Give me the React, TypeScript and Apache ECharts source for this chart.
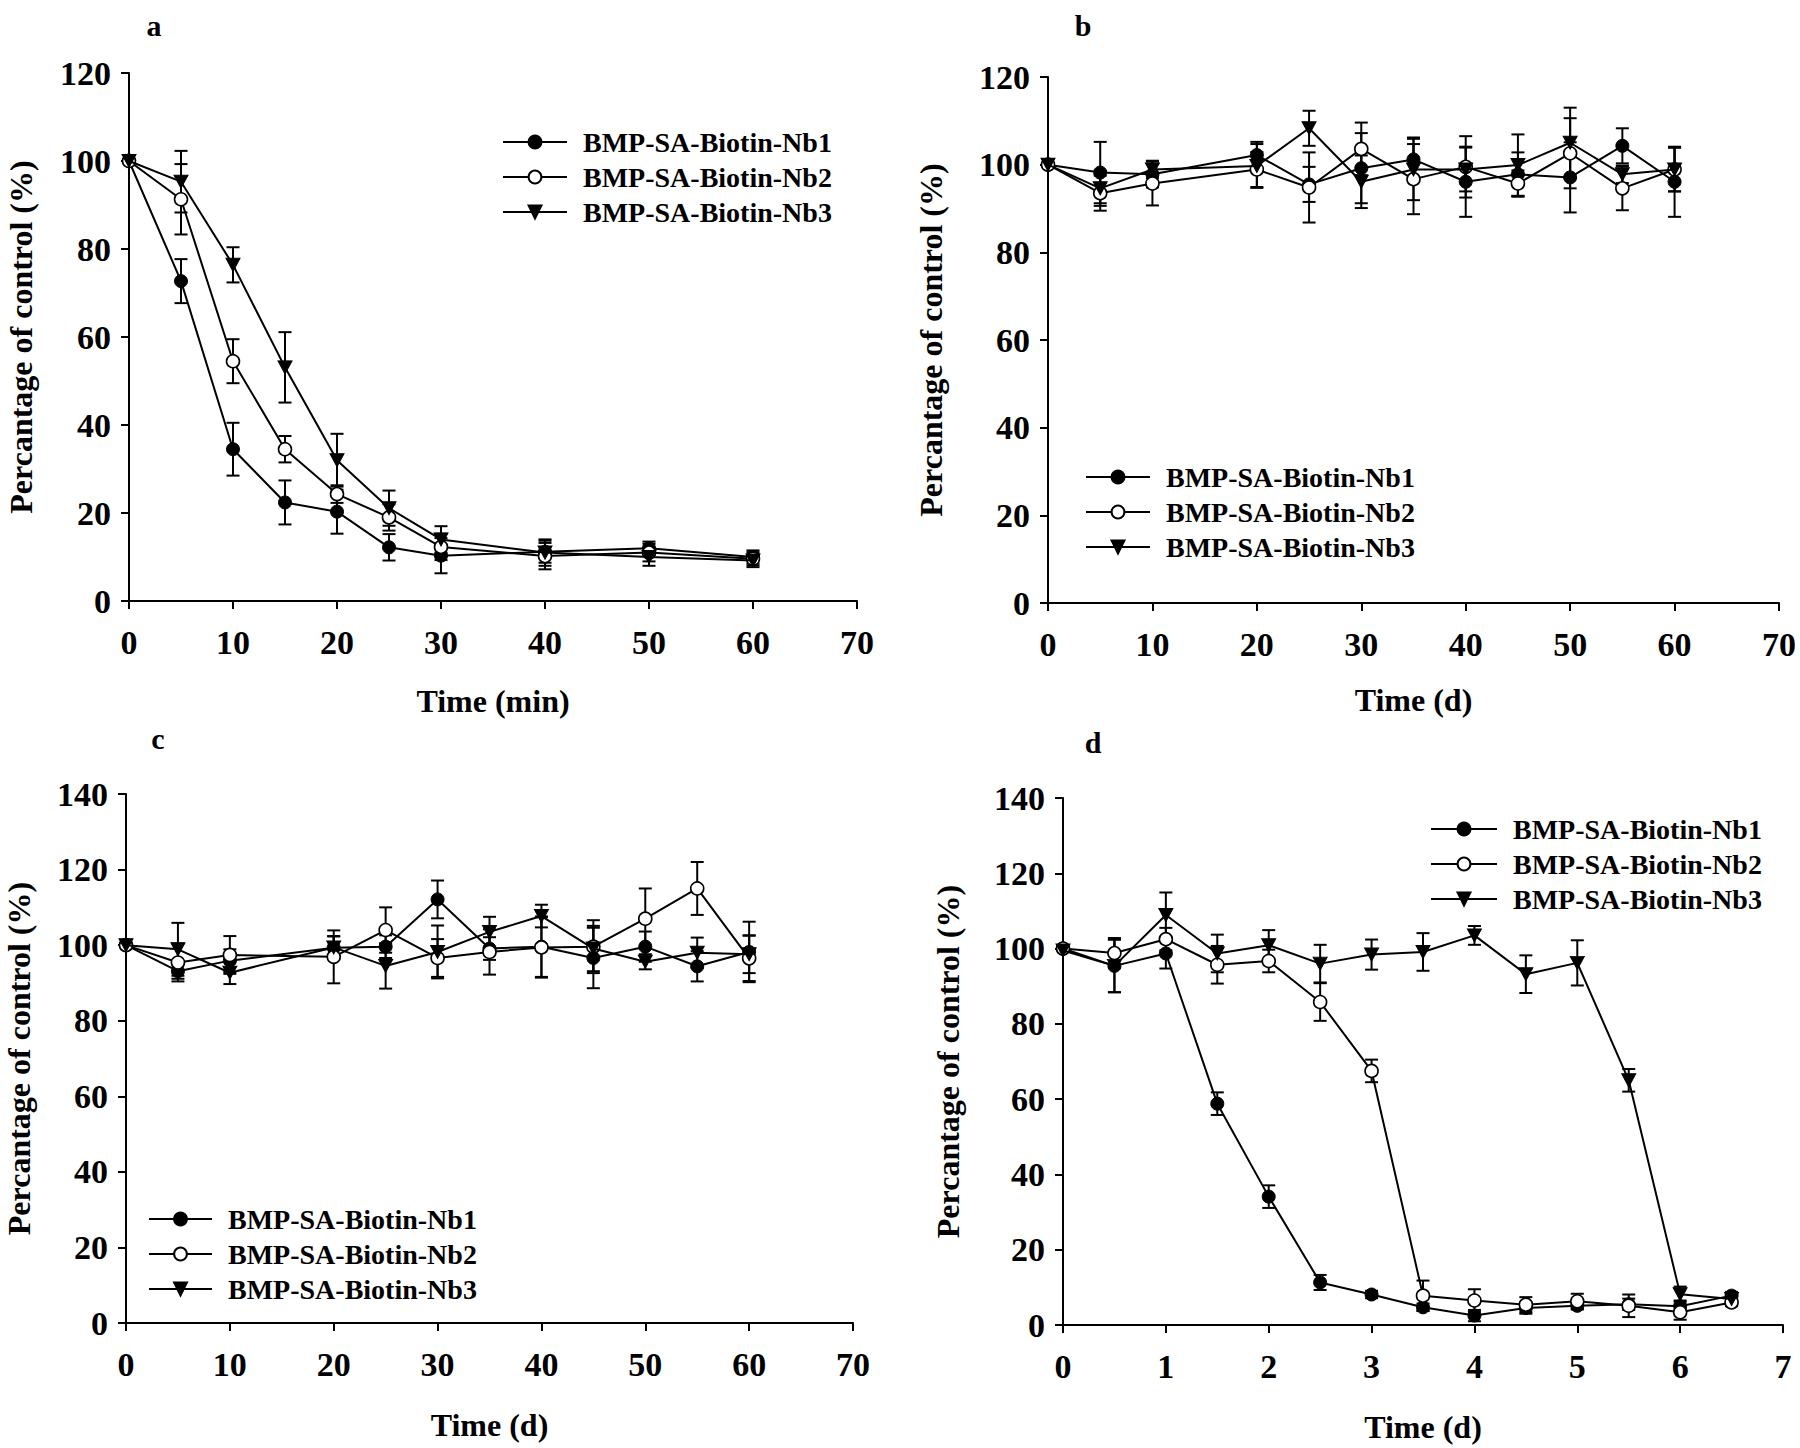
import React, { useEffect, useRef } from 'react';
import * as echarts from 'echarts';

const SERIES_NAMES = ['BMP-SA-Biotin-Nb1', 'BMP-SA-Biotin-Nb2', 'BMP-SA-Biotin-Nb3'];
const Y_TITLE = 'Percantage of control (%)';

// Panel a
const A_TIME = [0, 5, 10, 15, 20, 25, 30, 40, 50, 60];
const A_NB1 = [100, 72.7, 34.5, 22.4, 20.3, 12.2, 10.3, 11.2, 12.0, 10.0];
const A_NB1_ERR = [0, 5, 6, 5, 5, 3, 4, 2.5, 1.5, 1.5];
const A_NB2 = [100, 91.3, 54.5, 34.5, 24.3, 19.0, 12.3, 10.2, 11.0, 9.6];
const A_NB2_ERR = [0, 8, 5, 3, 2, 3, 3, 3, 2, 1.5];
const A_NB3 = [100, 95.3, 76.4, 53.1, 32.0, 21.1, 14.0, 11.0, 10.0, 9.2];
const A_NB3_ERR = [0, 7, 4, 8, 6, 4, 3, 3, 2, 1.5];

// Panel b
const B_TIME = [0, 5, 10, 20, 25, 30, 35, 40, 45, 50, 55, 60];
const B_NB1 = [100, 98.2, 97.8, 102.2, 95.5, 99.2, 101.2, 96.1, 97.8, 97.1, 104.3, 96.1];
const B_NB1_ERR = [0, 7, 3, 3, 4, 8, 5, 8, 5, 8, 4, 8];
const B_NB2 = [100, 93.5, 95.7, 98.9, 94.8, 103.6, 96.7, 99.5, 95.7, 102.6, 94.6, 98.9];
const B_NB2_ERR = [0, 4, 5, 4, 8, 6, 8, 7, 3, 8, 5, 5];
const B_NB3 = [100, 94.6, 98.9, 99.7, 108.3, 96.1, 98.9, 98.9, 99.9, 105.0, 97.8, 98.9];
const B_NB3_ERR = [0, 4, 2, 5, 4, 6, 7, 5, 7, 8, 2, 5];

// Panel c
const C_TIME = [0, 5, 10, 20, 25, 30, 35, 40, 45, 50, 55, 60];
const C_NB1 = [100, 93.1, 95.9, 99.3, 99.6, 112.1, 99.1, 99.6, 96.6, 99.6, 94.4, 98.2];
const C_NB1_ERR = [0, 2, 3, 3, 3, 5, 3, 8, 8, 4, 4, 8];
const C_NB2 = [100, 95.4, 97.4, 96.9, 104.0, 96.6, 98.2, 99.4, 99.6, 107.0, 115.0, 96.5];
const C_NB2_ERR = [0, 5, 5, 7, 6, 5, 6, 8, 7, 8, 7, 6];
const C_NB3 = [100, 98.9, 92.7, 99.4, 94.5, 98.2, 103.5, 107.7, 99.1, 95.6, 98.0, 97.6];
const C_NB3_ERR = [0, 7, 3, 3, 6, 7, 4, 3, 6, 2, 4, 5];

// Panel d
const D_TIME = [0, 0.5, 1, 1.5, 2, 2.5, 3, 3.5, 4, 4.5, 5, 5.5, 6, 6.5];
const D_NB1 = [100, 95.4, 98.7, 58.8, 34.1, 11.3, 8.1, 4.7, 2.5, 4.5, 5.1, 5.5, 5.0, 7.8];
const D_NB1_ERR = [0, 7, 4, 3, 3, 2, 1, 1, 1.5, 1.5, 1, 1.5, 1.5, 1];
const D_NB2 = [100, 98.8, 102.5, 95.7, 96.7, 85.8, 67.5, 7.8, 6.5, 5.4, 6.3, 5.1, 3.4, 6.0];
const D_NB2_ERR = [0, 4, 3, 5, 3, 5, 3, 4, 3, 2, 2, 3, 2, 1];
const D_NB3 = [99.5, 95.4, 108.9, 98.7, 100.9, 96.0, 98.4, 99.1, 103.5, 93.2, 96.2, 65.0, 8.2, 6.9];
const D_NB3_ERR = [0, 7, 6, 5, 4, 5, 4, 5, 2.5, 5, 6, 3, 2, 1];

const FONT = '"Liberation Serif", "Times New Roman", serif';

const PANELS = [
  {
    label: 'a', time: A_TIME, vals: [A_NB1, A_NB2, A_NB3], errs: [A_NB1_ERR, A_NB2_ERR, A_NB3_ERR],
    xMax: 70, xInt: 10, yMax: 120, xName: 'Time (min)',
    grid: { left: 129, top: 73, width: 728, height: 528 },
    legend: { left: 502, top: 128, itemWidth: 64 },
    labelPos: [154, 25], yGap: 92, xGap: 84,
  },
  {
    label: 'b', time: B_TIME, vals: [B_NB1, B_NB2, B_NB3], errs: [B_NB1_ERR, B_NB2_ERR, B_NB3_ERR],
    xMax: 70, xInt: 10, yMax: 120, xName: 'Time (d)',
    grid: { left: 1048, top: 77, width: 731, height: 526 },
    legend: { left: 1085, top: 463, itemWidth: 64 },
    labelPos: [1083, 25], yGap: 101, xGap: 81,
  },
  {
    label: 'c', time: C_TIME, vals: [C_NB1, C_NB2, C_NB3], errs: [C_NB1_ERR, C_NB2_ERR, C_NB3_ERR],
    xMax: 70, xInt: 10, yMax: 140, xName: 'Time (d)',
    grid: { left: 126, top: 794, width: 727, height: 529 },
    legend: { left: 148, top: 1205, itemWidth: 63 },
    labelPos: [158, 738], yGap: 91, xGap: 86,
  },
  {
    label: 'd', time: D_TIME, vals: [D_NB1, D_NB2, D_NB3], errs: [D_NB1_ERR, D_NB2_ERR, D_NB3_ERR],
    xMax: 7, xInt: 1, yMax: 140, xName: 'Time (d)',
    grid: { left: 1063, top: 798, width: 720, height: 527 },
    legend: { left: 1430, top: 815, itemWidth: 66 },
    labelPos: [1093, 742], yGap: 99, xGap: 86,
  },
];

const SYMBOLS = [
  { symbol: 'circle', symbolSize: 13, itemStyle: { color: '#000', borderColor: '#000', borderWidth: 1 } },
  { symbol: 'circle', symbolSize: 13, itemStyle: { color: '#fff', borderColor: '#000', borderWidth: 1.6 } },
  { symbol: 'path://M0,0L10,0L5,9Z', symbolSize: [14, 13], itemStyle: { color: '#000', borderColor: '#000', borderWidth: 1 } },
];

function buildOption() {
  const grid: any[] = [];
  const xAxis: any[] = [];
  const yAxis: any[] = [];
  const legend: any[] = [];
  const series: any[] = [];
  const graphic: any[] = [];
  const axisCommon = {
    axisLine: { show: true, onZero: false, lineStyle: { color: '#000', width: 2 } },
    axisTick: { show: true, inside: false, length: 8, lineStyle: { color: '#000', width: 2 } },
    splitLine: { show: false },
    axisLabel: { fontSize: 34, fontWeight: 'bold', fontFamily: FONT, color: '#000' },
    nameLocation: 'middle',
    nameTextStyle: { fontSize: 32, fontWeight: 'bold', fontFamily: FONT, color: '#000' },
  };

  PANELS.forEach((p, pi) => {
    grid.push({ ...p.grid, containLabel: false });
    xAxis.push({
      ...axisCommon, type: 'value', gridIndex: pi, min: 0, max: p.xMax, interval: p.xInt,
      name: p.xName, nameGap: p.xGap,
      axisLabel: { ...axisCommon.axisLabel, margin: 24 },
    });
    yAxis.push({
      ...axisCommon, type: 'value', gridIndex: pi, min: 0, max: p.yMax, interval: 20,
      name: Y_TITLE, nameGap: p.yGap, nameRotate: 90,
      axisLabel: { ...axisCommon.axisLabel, margin: 18 },
    });
    legend.push({
      orient: 'vertical', left: p.legend.left, top: p.legend.top, padding: 0,
      data: SERIES_NAMES, itemWidth: p.legend.itemWidth, itemHeight: 16, itemGap: 7,
      selectedMode: false,
      textStyle: { fontSize: 28, fontWeight: 'bold', fontFamily: FONT, color: '#000', lineHeight: 28, padding: [0, 0, 0, 11] },
    });
    graphic.push({
      type: 'text', x: p.labelPos[0], y: p.labelPos[1],
      style: { text: p.label, fontSize: 30, fontWeight: 'bold', fontFamily: FONT, fill: '#000', align: 'center', verticalAlign: 'middle' },
    });

    p.vals.forEach((vals, si) => {
      const errs = p.errs[si];
      const errData = p.time
        .map((t, k) => [t, vals[k] - errs[k], vals[k] + errs[k], errs[k]])
        .filter((d) => d[3] > 0);
      series.push({
        type: 'custom', name: `err-${p.label}-${si + 1}`, xAxisIndex: pi, yAxisIndex: pi, z: 1,
        data: errData, encode: { x: 0, y: [1, 2] }, silent: true,
        renderItem: (params: any, api: any) => {
          const x = api.value(0);
          const lo = api.coord([x, api.value(1)]);
          const hi = api.coord([x, api.value(2)]);
          const w = 6.5;
          const st = { stroke: '#000', lineWidth: 2 };
          return {
            type: 'group',
            children: [
              { type: 'line', shape: { x1: hi[0], y1: hi[1], x2: lo[0], y2: lo[1] }, style: st },
              { type: 'line', shape: { x1: hi[0] - w, y1: hi[1], x2: hi[0] + w, y2: hi[1] }, style: st },
              { type: 'line', shape: { x1: lo[0] - w, y1: lo[1], x2: lo[0] + w, y2: lo[1] }, style: st },
            ],
          };
        },
      });
      series.push({
        type: 'line', name: SERIES_NAMES[si], xAxisIndex: pi, yAxisIndex: pi, z: 3 + si,
        data: p.time.map((t, k) => [t, vals[k]]),
        showSymbol: true, ...SYMBOLS[si],
        lineStyle: { color: '#000', width: 2 },
        emphasis: { disabled: true },
      });
    });
  });

  return { animation: false, backgroundColor: '#fff', grid, xAxis, yAxis, legend, series, graphic };
}

export default function App() {
  const ref = useRef<HTMLDivElement>(null);
  useEffect(() => {
    if (!ref.current) return;
    const chart = echarts.init(ref.current, undefined, { renderer: 'svg' });
    chart.setOption(buildOption() as any);
    return () => chart.dispose();
  }, []);
  return <div ref={ref} style={{ position: 'absolute', left: 0, top: 0, width: 1800, height: 1448 }} />;
}
